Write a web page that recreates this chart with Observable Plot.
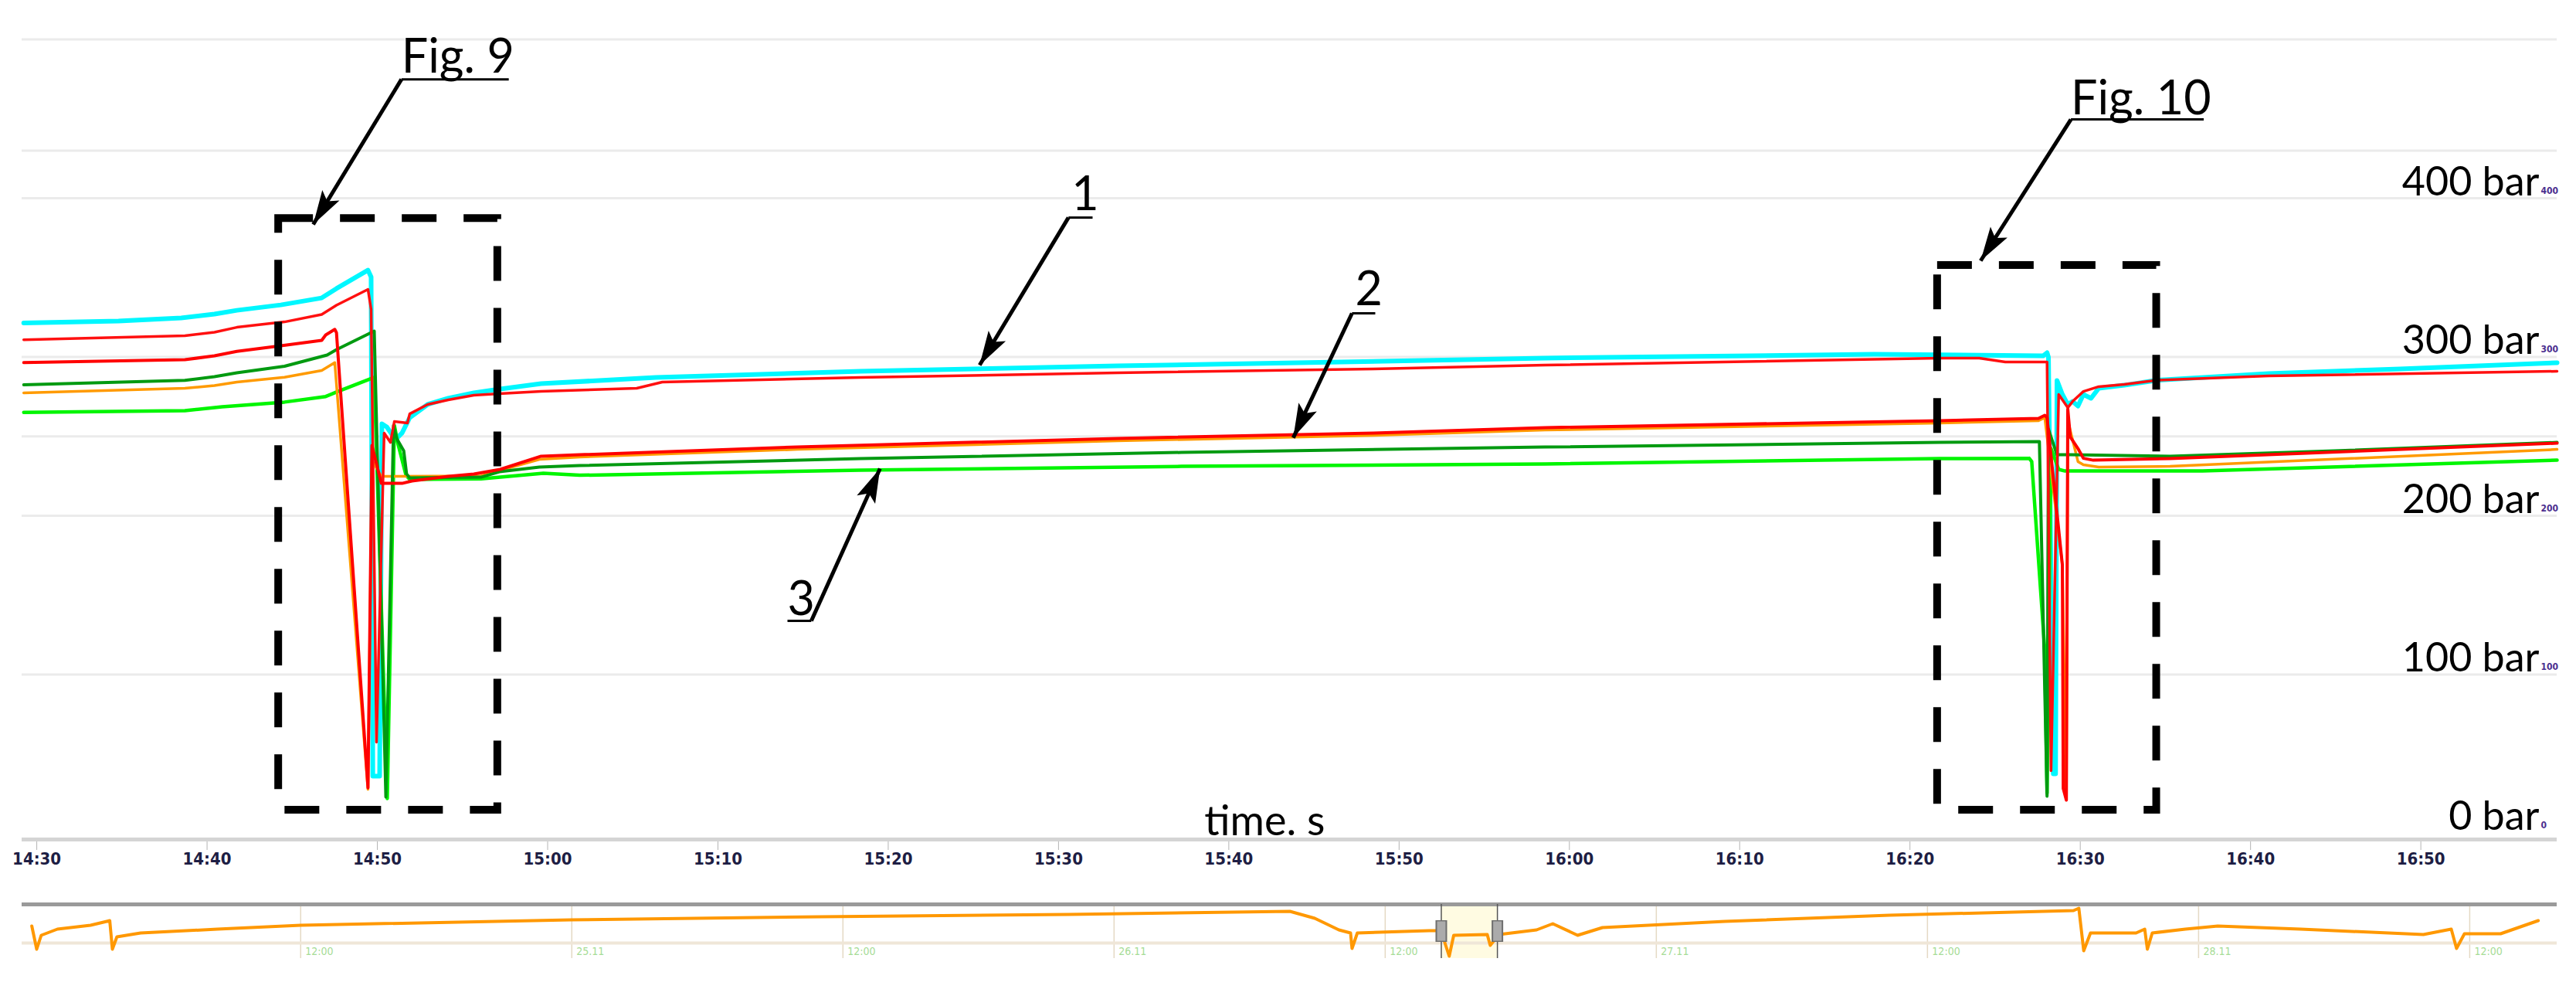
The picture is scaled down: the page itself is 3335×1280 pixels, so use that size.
<!DOCTYPE html>
<html><head><meta charset="utf-8">
<script src="https://cdn.jsdelivr.net/npm/d3@7"></script>
<script src="https://cdn.jsdelivr.net/npm/@observablehq/plot@0.6"></script>
<style>
html,body{margin:0;padding:0;background:#fff;overflow:hidden;}
#chart svg,#strip svg{display:block;}
#chart g[aria-label="x-axis tick"]{color:#b4b4b4;}
#chart g[aria-label="x-axis"] .tick line{stroke:#b4b4b4;}
</style></head>
<body><div id="chart"></div><div id="strip"></div>
<script>
// ---------------- data (time on 26.11, pressure in bar) ----------------
const line1Cyan = [
["14:29:14",321.4],["14:34:48",322.6],["14:38:29",324.6],["14:40:26",327.0],["14:41:45",329.4],
["14:44:20",332.8],["14:46:44",337.2],["14:47:36",343.1],["14:49:27",354.7],["14:49:38",350.4],
["14:49:44",36.0],["14:50:08",36.0],["14:50:16",257.9],["14:50:33",256.0],["14:50:52",251.1],
["14:51:08",248.7],["14:51:27",252.1],["14:51:54",261.8],["14:52:57",270.1],["14:54:10",274.0],
["14:55:40",277.4],["14:57:13",279.8],["14:59:37",283.2],["15:06:22",287.1],["15:18:23",291.0],
["15:33:27",294.4],["15:46:36",296.8],["15:58:34",299.3],["16:17:53",301.7],["16:27:49",300.7],
["16:28:03",302.7],["16:28:08",299.8],["16:28:25",37.5],["16:28:33",37.5],["16:28:38",285.2],
["16:28:57",276.4],["16:29:16",270.1],["16:29:33",272.0],["16:29:52",269.1],["16:30:11",276.4],
["16:30:38",274.0],["16:31:05",280.3],["16:32:35",282.2],["16:34:32",285.4],["16:41:04",289.5],
["16:48:47",292.5],["16:58:00",296.4]
];
const line1Red = [
["14:29:14",310.9],["14:38:42",313.4],["14:40:26",315.6],["14:41:45",318.7],["14:44:33",322.1],
["14:46:44",326.8],["14:47:36",332.6],["14:49:27",342.6],["14:49:38",330.0],["14:49:57",57.4],
["14:50:24",252.1],["14:50:46",246.2],["14:51:00",259.4],["14:51:46",258.4],["14:51:54",264.2],
["14:52:57",270.1],["14:54:10",273.0],["14:55:40",275.9],["14:57:10",276.9],["14:59:37",278.3],
["15:05:14",280.3],["15:06:44",284.2],["15:18:23",287.1],["15:33:27",290.0],["15:48:30",292.5],
["15:58:34",294.9],["16:21:45",299.3],["16:24:04",299.3],["16:25:36",296.8],["16:28:03",296.8],
["16:28:17",39.4],["16:28:44",276.4],["16:29:16",268.1],["16:29:33",272.0],["16:30:11",278.3],
["16:31:05",281.3],["16:32:35",282.7],["16:34:32",285.4],["16:41:04",288.1],["16:58:00",291.0]
];
const line2Red = [
["14:29:14",296.5],["14:38:42",298.3],["14:40:26",300.7],["14:41:45",303.5],["14:44:20",307.1],
["14:46:44",310.5],["14:46:58",313.9],["14:47:30",317.4],["14:47:36",315.3],["14:49:27",28.7],
["14:49:41",244.3],["14:50:14",220.4],["14:51:27",220.4],["14:52:02",221.9],["14:54:10",224.8],
["14:55:40",226.3],["14:57:13",229.2],["14:59:37",237.5],["15:01:53",238.4],["15:14:40",243.3],
["15:33:27",248.7],["15:48:30",252.1],["15:58:34",255.5],["16:21:45",259.9],["16:27:33",261.3],
["16:27:55",263.3],["16:28:03",261.8],["16:28:57",168.9],["16:29:00",28.2],["16:29:11",20.9],
["16:29:16",267.2],["16:29:25",249.6],["16:29:52",242.3],["16:30:11",236.2],["16:30:46",235.0],
["16:35:16",236.0],["16:58:00",245.7]
];
const line2Orange = [
["14:29:14",277.4],["14:38:42",280.3],["14:40:26",282.0],["14:41:45",284.2],["14:44:33",287.2],
["14:46:44",291.5],["14:47:30",296.5],["14:49:27",27.7],["14:49:41",235.0],["14:50:14",224.8],
["14:56:05",225.1],["14:59:31",235.5],["15:01:53",237.0],["15:14:40",241.8],["15:33:27",247.2],
["15:48:30",250.6],["15:58:34",254.0],["16:21:45",258.4],["16:27:33",259.9],["16:27:55",261.8],
["16:28:57",168.9],["16:29:11",22.0],["16:29:16",260.0],["16:29:52",234.1],["16:30:11",232.1],
["16:31:05",230.7],["16:35:16",231.1],["16:58:00",241.8]
];
const line3Green = [
["14:29:14",282.5],["14:38:42",285.3],["14:40:26",287.6],["14:41:45",290.0],["14:44:33",294.2],
["14:47:03",301.2],["14:47:36",304.6],["14:49:49",316.3],["14:50:30",22.9],["14:50:57",256.9],
["14:51:08",248.7],["14:51:33",240.9],["14:51:43",226.3],["14:51:54",223.8],["14:56:05",224.3],
["14:57:10",227.7],["14:59:31",230.7],["15:01:53",231.6],["15:18:23",236.0],["15:37:13",239.9],
["15:58:34",243.3],["16:21:45",246.2],["16:27:36",246.7],["16:28:03",23.4],["16:28:08",254.5],
["16:28:38",238.4],["16:29:27",238.4],["16:35:16",237.5],["16:44:55",240.9],["16:58:00",246.2]
];
const line3Lime = [
["14:29:14",265.1],["14:38:42",266.2],["14:40:53",268.6],["14:44:33",271.6],["14:46:58",275.1],
["14:47:36",277.9],["14:49:49",287.2],["14:50:35",21.9],["14:51:00",256.9],["14:51:13",245.0],
["14:51:41",225.5],["14:51:54",222.9],["14:56:05",223.2],["14:59:45",226.8],["15:01:53",225.5],
["15:18:23",228.7],["15:37:13",231.1],["15:58:34",232.6],["16:21:45",236.0],["16:27:00",236.2],
["16:27:09",234.1],["16:27:55",115.0],["16:28:03",25.3],["16:28:17",242.3],["16:28:44",229.2],
["16:29:06",228.2],["16:37:10",228.2],["16:58:00",235.0]
];
// overview trace of the whole recording (day.month time, arbitrary pressure units)
const overviewTrace = [
["24.11 00:06",210],["24.11 00:19",60],["24.11 00:31",150],["24.11 01:14",190],["24.11 02:42",215],
["24.11 03:25",240],["24.11 03:33",245],["24.11 03:40",60],["24.11 03:52",140],["24.11 04:55",165],
["24.11 08:19",190],["24.11 12:00",215],["24.11 23:58",250],["25.11 11:02",270],["25.11 21:59",285],
["26.11 07:47",305],["26.11 08:53",260],["26.11 09:57",185],["26.11 10:28",165],["26.11 10:32",65],
["26.11 10:46",165],["26.11 13:57",180],["26.11 14:28",180],["26.11 14:50",15],["26.11 15:02",150],
["26.11 16:31",155],["26.11 16:39",85],["26.11 17:02",155],["26.11 18:42",185],["26.11 19:25",225],
["26.11 20:31",150],["26.11 21:37",200],["27.11 03:02",240],["27.11 10:19",280],["27.11 18:28",310],
["27.11 18:42",325],["27.11 18:55",50],["27.11 19:13",165],["27.11 21:14",165],["27.11 21:37",190],
["27.11 21:44",60],["27.11 21:57",165],["27.11 23:25",190],["28.11 00:51",210],["28.11 04:31",190],
["28.11 09:57",155],["28.11 11:11",190],["28.11 11:25",65],["28.11 11:46",160],["28.11 13:22",160],
["28.11 15:02",245]
];
const overviewTicks = ["24.11 12:00","25.11 00:00","25.11 12:00","26.11 00:00","26.11 12:00","27.11 00:00","27.11 12:00","28.11 00:00","28.11 12:00"];
const overviewWindow = ["26.11 14:29","26.11 16:58"];

const gridLevels = [500, 430, 400, 300, 250, 200, 100];
const barLevels = [400, 300, 200, 100, 0];
const barLabels = ["400 bar", "300 bar", "200 bar", "100 bar", "0 bar"];

const boxes = [
  {x1:"14:44:12", x2:"14:57:04", y1:14.6, y2:387.3},
  {x1:"16:21:37", x2:"16:34:29", y1:14.6, y2:357.7}
];
const calloutText = ["Fig. 9", "Fig. 10", "1", "2", "3"];
const calloutTextAt = [["14:51:25",479.3],["16:29:27",453.0],["15:30:46",392.7],["15:47:25",332.8],["15:14:05",137.7]];
const calloutUnderFrom = [["14:51:25",474.9],["16:29:27",449.6],["15:30:35",387.8],["15:47:14",327.5],["15:14:05",133.8]];
const calloutUnderTo = [["14:57:43",474.9],["16:37:15",449.6],["15:32:00",387.8],["15:48:36",327.5],["15:15:29",133.8]];
const calloutArrowFrom = [["14:51:25",474.9],["16:29:27",449.6],["15:30:35",387.8],["15:47:14",327.5],["15:15:29",133.8]];
const calloutArrowTip = [["14:46:14",383.5],["16:24:09",360.6],["15:25:22",294.9],["15:43:47",249.1],["15:19:31",229.7]];
const axisTitle = {text:"time. s", at:["15:38:34",-1]};
const xStart = "14:29:08", xEnd = "16:58:00";

// ---------------- helpers ----------------
const parseT = d3.timeParse("%d.%m.%Y %H:%M:%S");
const T = s => parseT("26.11.2021 " + s);
const parseS = d3.timeParse("%d.%m.%Y %H:%M");
const S = s => parseS(s.replace(" ", ".2021 "));

function filledArrow(color) {
  const m = d3.create("svg:marker")
    .attr("viewBox", "-46 -15 48 30")
    .attr("markerWidth", 48).attr("markerHeight", 30)
    .attr("refX", 0).attr("refY", 0)
    .attr("orient", "auto").attr("markerUnits", "userSpaceOnUse")
    .attr("fill", color).attr("stroke", "none");
  m.append("path").attr("d", "M0,0L-44,-13L-35,0L-44,13Z");
  return m.node();
}

const xTicks = d3.timeMinute.every(10).range(T(xStart), T(xEnd));
const LATO = "Lato, 'Open Sans', sans-serif";

const seriesDefs = [
  {data: line1Cyan, color: "#00f7ff", width: 6},
  {data: line3Lime, color: "#00f500", width: 4.5},
  {data: line2Orange, color: "#ff9a00", width: 3.5},
  {data: line3Green, color: "#009a10", width: 4},
  {data: line1Red, color: "#ff1010", width: 3.5},
  {data: line2Red, color: "#ff0000", width: 4}
];

const main = Plot.plot({
  width: 3335, height: 1160,
  marginLeft: 28, marginRight: 25, marginTop: 0, marginBottom: 74,
  style: {fontFamily: "'Liberation Sans Narrow','DejaVu Sans Condensed',sans-serif", fontSize: "22px", fontWeight: "bold", color: "#1e1e44", background: "#fff"},
  x: {type: "time", domain: [T(xStart), T(xEnd)], ticks: xTicks, tickFormat: d3.timeFormat("%H:%M"), tickSize: 14, tickPadding: 3, label: null},
  y: {domain: [-3.9, 524.6], axis: null},
  marks: [
    Plot.ruleY(gridLevels, {stroke: "#ebebeb", strokeWidth: 3}),
    Plot.ruleY([-3.9], {stroke: "#d4d4d4", strokeWidth: 5}),
    ...seriesDefs.map(s => Plot.line(s.data, {x: d => T(d[0]), y: d => d[1], stroke: s.color, strokeWidth: s.width, strokeLinejoin: "round"})),
    Plot.rect(boxes, {x1: d => T(d.x1), x2: d => T(d.x2), y1: "y1", y2: "y2", fill: "none", stroke: "#000", strokeWidth: 10, strokeDasharray: "45,35"}),
    Plot.link(calloutText.map((t, i) => i), {
      x1: i => T(calloutUnderFrom[i][0]), y1: i => calloutUnderFrom[i][1],
      x2: i => T(calloutUnderTo[i][0]), y2: i => calloutUnderTo[i][1],
      stroke: "#000", strokeWidth: 3}),
    Plot.link(calloutText.map((t, i) => i), {
      x1: i => T(calloutArrowFrom[i][0]), y1: i => calloutArrowFrom[i][1],
      x2: i => T(calloutArrowTip[i][0]), y2: i => calloutArrowTip[i][1],
      stroke: "#000", strokeWidth: 5, markerEnd: filledArrow}),
    Plot.text(calloutText.map((t, i) => i), {
      x: i => T(calloutTextAt[i][0]), y: i => calloutTextAt[i][1], text: i => calloutText[i],
      textAnchor: "start", lineAnchor: "bottom", fontSize: 61, fontFamily: LATO, fontWeight: "normal", fill: "#000"}),
    Plot.text(barLevels, {y: d => d, text: (d, i) => barLabels[i], frameAnchor: "right", textAnchor: "end", lineAnchor: "bottom",
      dx: -23, dy: -4, fontSize: 52, fontFamily: LATO, fontWeight: "normal", fill: "#000"}),
    Plot.text(barLevels, {y: d => d, text: d => String(d), frameAnchor: "right", textAnchor: "start", lineAnchor: "bottom",
      dx: -21, dy: -6, fontSize: 12, fill: "#4b2f8f"}),
    Plot.text([axisTitle], {x: d => T(d.at[0]), y: d => d.at[1], text: "text", textAnchor: "start", lineAnchor: "bottom",
      fontSize: 54, fontFamily: LATO, fontWeight: "normal", fill: "#000"})
  ]
});
document.getElementById("chart").appendChild(main);

const strip = Plot.plot({
  width: 3335, height: 120,
  marginLeft: 28, marginRight: 25, marginTop: 10, marginBottom: 40,
  style: {fontFamily: "'Liberation Sans Narrow','DejaVu Sans Condensed',sans-serif", background: "#fff"},
  x: {type: "time", domain: [S("23.11 23:40"), S("28.11 15:52")], axis: null},
  y: {domain: [0, 350], axis: null},
  marks: [
    Plot.rect([overviewWindow], {x1: d => S(d[0]), x2: d => S(d[1]), y1: 0, y2: 350, fill: "#fffbe2"}),
    Plot.ruleX(overviewTicks, {x: d => S(d), y1: 0, y2: 350, stroke: "#e4d9c4", strokeWidth: 1.5}),
    Plot.ruleY([100], {stroke: "#efe6d8", strokeWidth: 4}),
    Plot.ruleY([350], {stroke: "#9a9a9a", strokeWidth: 5}),
    Plot.text(overviewTicks, {x: d => S(d), y: 45, text: d => d.endsWith("00:00") ? d.slice(0, 5) : d.slice(6),
      dx: 6, textAnchor: "start", fill: "#a6dc96", fontSize: 14}),
    Plot.line(overviewTrace, {x: d => S(d[0]), y: d => d[1], stroke: "#ff9800", strokeWidth: 4, strokeLinejoin: "round"}),
    Plot.ruleX(overviewWindow, {x: d => S(d), y1: 0, y2: 350, stroke: "#555", strokeWidth: 1.5}),
    Plot.ruleX(overviewWindow, {x: d => S(d), y1: 105, y2: 245, stroke: "#6e6e6e", strokeWidth: 15}),
    Plot.ruleX(overviewWindow, {x: d => S(d), y1: 112, y2: 238, stroke: "#ababab", strokeWidth: 11})
  ]
});
document.getElementById("strip").appendChild(strip);
</script>
</body></html>
